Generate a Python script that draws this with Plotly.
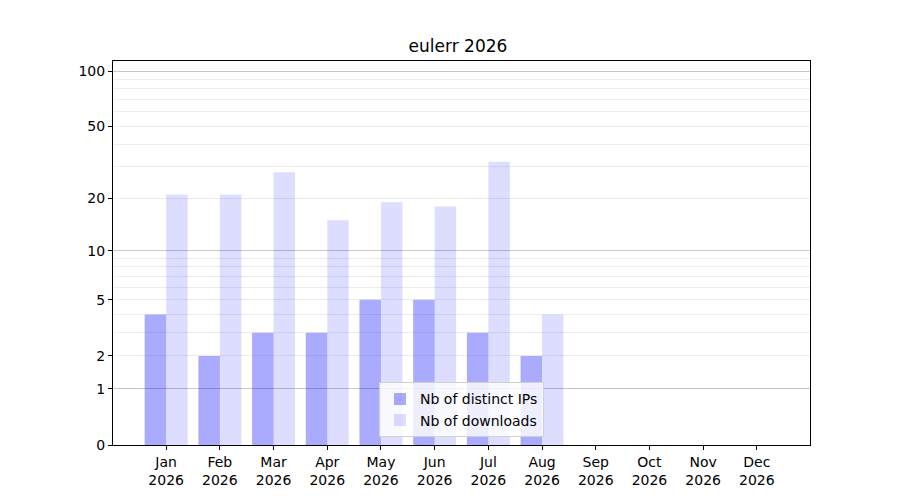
import plotly.graph_objects as go

# monthly stats for the package
months = ['Jan', 'Feb', 'Mar', 'Apr', 'May', 'Jun', 'Jul', 'Aug', 'Sep', 'Oct', 'Nov', 'Dec']
year = '2026'
distinct_ips = [4, 2, 3, 3, 5, 5, 3, 2, None, None, None, None]
downloads = [21, 21, 28, 15, 19, 18, 32, 4, None, None, None, None]

# y ticks (axis is log(1 + n))
tick_values = [0, 1, 2, 5, 10, 20, 50, 100]
major_grid = [1, 10, 100]
minor_grid = [3, 4, 6, 7, 8, 9, 30, 40, 60, 70, 80, 90]

labels = [m + '<br>' + year for m in months]


def shift(vals):
    # plot n + 1 on a log axis so that 0 sits at the bottom
    return [None if v is None else v + 1 for v in vals]


fig = go.Figure()
fig.add_trace(go.Bar(x=labels, y=shift(distinct_ips), name='Nb of distinct IPs',
                     marker=dict(color='rgba(0,0,255,0.333)', line=dict(width=0))))
fig.add_trace(go.Bar(x=labels, y=shift(downloads), name='Nb of downloads',
                     marker=dict(color='rgba(0,0,255,0.133)', line=dict(width=0))))

# invisible trace on second axis just to hold the darker grid lines
fig.add_trace(go.Scatter(x=[labels[0]], y=[1], yaxis='y2', showlegend=False,
                         mode='markers', marker=dict(opacity=0), hoverinfo='skip'))

y_range = [0, 2.058]

# page body adds ~8px offset, margins compensate for it
fig.update_layout(
    width=900, height=500,
    plot_bgcolor='white', paper_bgcolor='white',
    font=dict(family='DejaVu Sans', size=14, color='black'),
    title=dict(text='eulerr 2026', x=0.5, xanchor='center', y=0.924, yanchor='middle',
               font=dict(size=17)),
    margin=dict(l=105, r=98, t=53, b=63),
    barmode='group', bargap=0.2, bargroupgap=0,
    xaxis=dict(range=[-0.99, 11.99], showline=True, linecolor='black', linewidth=1,
               mirror=True, ticks='outside', ticklen=4, tickcolor='black',
               showgrid=False),
    yaxis=dict(type='log', range=y_range,
               tickvals=[v + 1 for v in tick_values],
               ticktext=[str(v) for v in tick_values],
               showline=True, linecolor='black', linewidth=1, mirror=True,
               ticks='outside', ticklen=4, tickcolor='black',
               showgrid=True, gridcolor='#ececec', gridwidth=1, zeroline=False,
               minor=dict(tickvals=[v + 1 for v in minor_grid], showgrid=True,
                          gridcolor='#ececec', gridwidth=1, ticks='')),
    yaxis2=dict(type='log', range=y_range, overlaying='y', side='left',
                tickvals=[v + 1 for v in major_grid], showticklabels=False,
                showgrid=True, gridcolor='#c8c8c8', gridwidth=1, ticks='',
                showline=False, zeroline=False),
    legend=dict(x=0.5, xanchor='center', y=0.02, yanchor='bottom',
                bgcolor='rgba(255,255,255,0.8)', bordercolor='#d0d0d0', borderwidth=1,
                font=dict(size=14)),
)

fig.write_html("out.html")
